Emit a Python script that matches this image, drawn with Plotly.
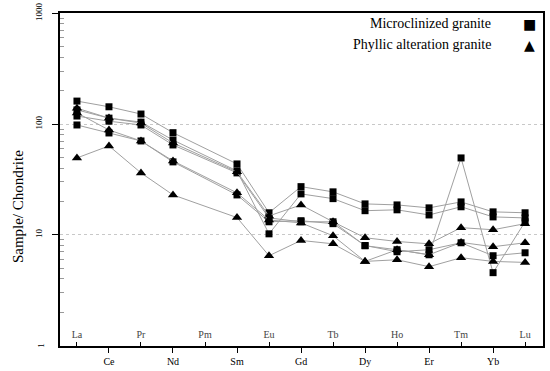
import plotly.graph_objects as go

elements = ["La", "Ce", "Pr", "Nd", "Pm", "Sm", "Eu", "Gd", "Tb", "Dy", "Ho", "Er", "Tm", "Yb", "Lu"]

# Microclinized granite (squares)
micro_1 = [161, 143, 123, 83.5, None, 43.6, 15.8, 27.2, 24.4, 19.0, 18.6, 17.5, 19.8, 16.1, 15.8]
micro_2 = [134, 113, 104, 71.7, None, 37.7, 10.2, 23.4, 21.2, 16.5, 16.8, 15.1, 17.9, 14.5, 14.2]
micro_3 = [118, 106, 98, 64.7, None, 36.2, 14.2, 13.1, 13.1, 7.96, 7.33, 6.6, 49.4, 4.55, 13.1]
micro_4 = [98, 83, 70.3, 45.5, None, 22.9, 13.1, 13.4, 12.6, 8.0, 7.03, 7.33, 8.47, 6.47, 6.88]

# Phyllic alteration granite (triangles)
phyl_1 = [139, 113, 102, 67.4, None, 37.0, 14.8, 18.6, 13.1, 9.4, 8.7, 8.29, 11.6, 11.1, 12.6]
phyl_2 = [126, 88.3, 70.3, 46.4, None, 23.9, 13.6, 12.8, 9.8, 5.75, 7.33, 6.6, 8.53, 7.8, 8.47]
phyl_3 = [49.4, 63.4, 36.2, 22.9, None, 14.3, 6.47, 8.89, 8.29, 5.75, 5.95, 5.15, 6.21, 5.75, 5.63]

y_tick_vals = [1, 10, 100, 1000]
y_tick_text = ["", "10", "100", "1000"]   # the "1" label is drawn as an annotation below
y_minor_vals = [m * d for d in (1, 10, 100) for m in range(2, 10)]

x_idx = list(range(len(elements)))
FONT = "Liberation Serif"
LINE = "#a0a0a0"

fig = go.Figure()

def add_series(vals, symbol, size):
    fig.add_trace(go.Scatter(
        x=x_idx, y=vals, mode="lines+markers", connectgaps=True,
        line=dict(color=LINE, width=1),
        marker=dict(symbol=symbol, size=size, color="black", line=dict(width=0)),
        showlegend=False, hoverinfo="skip"))

for s in [micro_1, micro_2, micro_3, micro_4]:
    add_series(s, "square", 7)
for s in [phyl_1, phyl_2, phyl_3]:
    add_series(s, "triangle-up", 9)

# dummy trace to activate the second x axis
fig.add_trace(go.Scatter(x=[None], y=[None], xaxis="x2", showlegend=False, hoverinfo="skip"))

xr = [-0.53, 14.56]
odd = [i for i in x_idx if i % 2 == 1]
even = [i for i in x_idx if i % 2 == 0]

fig.update_layout(
    width=550, height=371,
    margin=dict(l=60, r=7, t=13, b=25),
    paper_bgcolor="white", plot_bgcolor="white",
    font=dict(family=FONT, color="black"),
    xaxis=dict(
        range=xr, tickmode="array", tickvals=odd, ticktext=[elements[i] for i in odd],
        ticks="outside", ticklen=5, tickcolor="black", tickwidth=1, automargin=False,
        tickfont=dict(size=10, family=FONT), showgrid=False, zeroline=False,
        showline=True, linecolor="black", linewidth=2, mirror=True),
    xaxis2=dict(
        range=xr, overlaying="x", anchor="y", side="bottom", automargin=False,
        tickmode="array", tickvals=even, ticktext=[elements[i] for i in even],
        ticks="inside", ticklen=4, tickcolor="black", tickwidth=1,
        ticklabelposition="inside", ticklabelstandoff=1,
        tickfont=dict(size=10, family=FONT), showgrid=False, zeroline=False, showline=False),
    yaxis=dict(
        type="log", range=[-0.004, 3.002], tickmode="array", tickvals=y_tick_vals, ticktext=y_tick_text,
        tickangle=-90, ticks="outside", ticklen=6, tickcolor="black", tickwidth=1, automargin=False,
        tickfont=dict(size=9, family=FONT), ticklabelstandoff=6, ticklabeloverflow="allow",
        showgrid=True, gridcolor="#c8c8c8", griddash="dot", gridwidth=1,
        minor=dict(tickmode="array", tickvals=y_minor_vals, ticks="inside", ticklen=4,
                   tickcolor="#999", showgrid=False),
        zeroline=False, showline=True, linecolor="black", linewidth=2, mirror=True),
)

fig.add_annotation(xref="paper", yref="y", x=-0.041, y=0, xanchor="center", yanchor="middle",
                   text="1", textangle=-90, showarrow=False,
                   font=dict(size=9, family=FONT, color="black"))

fig.add_annotation(xref="paper", yref="paper", x=-0.087, y=0.42, xanchor="center", yanchor="middle",
                   text="Sample/ Chondrite", textangle=-90, showarrow=False,
                   font=dict(size=15, family=FONT, color="black"))

legend_items = [("Microclinized granite", "■", 14, 0.967), ("Phyllic alteration granite", "▲", 14, 0.904)]
for text, glyph, gsize, ypos in legend_items:
    fig.add_annotation(xref="paper", yref="paper", x=0.896, y=ypos, xanchor="right", yanchor="middle",
                       text=text, showarrow=False, font=dict(size=14, family=FONT, color="black"))
    fig.add_annotation(xref="paper", yref="paper", x=0.973, y=ypos, xanchor="center", yanchor="middle",
                       text=glyph, showarrow=False, font=dict(size=gsize, family="DejaVu Sans", color="black"))

# remove the browser's default 8px page margin so the figure fills the window
fig.write_html("out.html", config={"displayModeBar": False},
               post_script="document.body.style.margin='0';document.body.style.overflow='hidden';")
